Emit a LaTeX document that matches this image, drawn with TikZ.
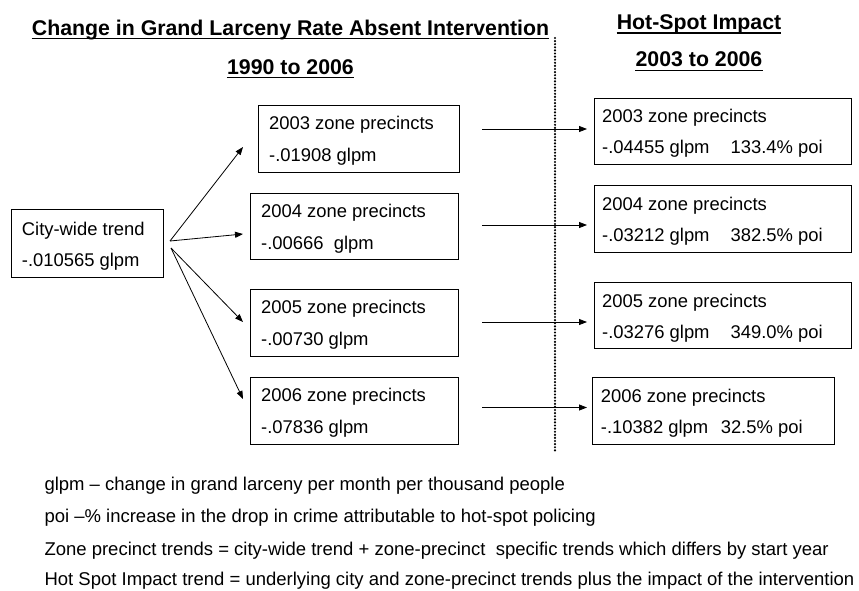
\documentclass[tikz,border=0pt]{standalone}
\usepackage{fontspec}
\setmainfont{Liberation Sans}
\usetikzlibrary{arrows.meta}
\begin{document}
\begin{tikzpicture}[x=1pt,y=-1pt,
  boxnode/.style={draw, line width=0.8pt, inner sep=0pt, anchor=north west},
  txt/.style={anchor=base west, inner sep=0pt, font=\fontsize{18.4}{20}\selectfont},
  ttl/.style={anchor=base, inner sep=0pt, font=\fontsize{21.3}{24}\selectfont\bfseries},
  uline/.style={line width=1.4pt},
  arr/.style={line width=0.8pt, -{Triangle[length=8pt,width=6pt]}},
  dotline/.style={line width=2.4pt, dash pattern=on 0pt off 3.1pt, line cap=round},
  note/.style={anchor=base west, inner sep=0pt, font=\fontsize{18.5}{20}\selectfont},
]
\useasboundingbox (0,0) rectangle (859,590);

% titles
\node[ttl] (t1) at (290.5,35) {Change in Grand Larceny Rate Absent Intervention};
\node[ttl] (t2) at (290.5,74) {1990 to 2006};
\node[ttl] (t3) at (699,29.3) {Hot-Spot Impact};
\node[ttl] (t4) at (699,66.7) {2003 to 2006};
\foreach \t in {t1,t2,t3,t4}
  \draw[uline] ([yshift=-3.5pt]\t.base west) -- ([yshift=-3.5pt]\t.base east);

% dotted separator
\coordinate (d1) at (555,38);
\coordinate (d2) at (555,453);
\draw[dotline] (d1) -- (d2);

% city-wide box
\node[boxnode, minimum width=152pt, minimum height=68pt] (city) at (11,209) {};
\node[txt] (citya) at ([shift={(10.7,26)}]city.north west) {City-wide trend};
\node[txt] (cityb) at ([shift={(10.7,57.5)}]city.north west) {-.010565 glpm};

% left boxes
\node[boxnode, minimum width=201pt, minimum height=67pt] (l1) at (258,105) {};
\node[txt] (l1a) at ([shift={(11,24)}]l1.north west) {2003 zone precincts};
\node[txt] (l1b) at ([shift={(11,56)}]l1.north west) {-.01908 glpm};

\node[boxnode, minimum width=208pt, minimum height=66pt] (l2) at (250,193) {};
\node[txt] (l2a) at ([shift={(11,24)}]l2.north west) {2004 zone precincts};
\node[txt] (l2b) at ([shift={(11,56)}]l2.north west) {-.00666~ glpm};

\node[boxnode, minimum width=208pt, minimum height=67pt] (l3) at (250,289) {};
\node[txt] (l3a) at ([shift={(11,24)}]l3.north west) {2005 zone precincts};
\node[txt] (l3b) at ([shift={(11,56)}]l3.north west) {-.00730 glpm};

\node[boxnode, minimum width=208pt, minimum height=67pt] (l4) at (250,377) {};
\node[txt] (l4a) at ([shift={(11,24)}]l4.north west) {2006 zone precincts};
\node[txt] (l4b) at ([shift={(11,56)}]l4.north west) {-.07836 glpm};

% right boxes
\node[boxnode, minimum width=257pt, minimum height=66.5pt] (r1) at (594,97.7) {};
\node[txt] (r1a) at ([shift={(8,25)}]r1.north west) {2003 zone precincts};
\node[txt] (r1b) at ([shift={(8,56)}]r1.north west) {-.04455 glpm\hspace{21pt}133.4\% poi};

\node[boxnode, minimum width=257pt, minimum height=67pt] (r2) at (594,185) {};
\node[txt] (r2a) at ([shift={(8,25)}]r2.north west) {2004 zone precincts};
\node[txt] (r2b) at ([shift={(8,56)}]r2.north west) {-.03212 glpm\hspace{21pt}382.5\% poi};

\node[boxnode, minimum width=257pt, minimum height=66pt] (r3) at (594,282) {};
\node[txt] (r3a) at ([shift={(8,25)}]r3.north west) {2005 zone precincts};
\node[txt] (r3b) at ([shift={(8,56)}]r3.north west) {-.03276 glpm\hspace{21pt}349.0\% poi};

\node[boxnode, minimum width=242pt, minimum height=67pt] (r4) at (592,377) {};
\node[txt] (r4a) at ([shift={(8.7,25)}]r4.north west) {2006 zone precincts};
\node[txt] (r4b) at ([shift={(8.7,56)}]r4.north west) {-.10382 glpm\hspace{12.5pt}32.5\% poi};

% fan arrows
\coordinate (f1) at (170,241);
\coordinate (f2) at (171,248);
\coordinate (e1) at (243,147);
\coordinate (e2) at (243,234);
\coordinate (e3) at (243,322);
\coordinate (e4) at (243,399);
\draw[arr] (f1) -- (e1);
\draw[arr] (f1) -- (e2);
\draw[arr] (f2) -- (e3);
\draw[arr] (f2) -- (e4);

% horizontal arrows
\coordinate (h1s) at (482,129);   \coordinate (h1e) at (587,129);
\coordinate (h2s) at (482,225);   \coordinate (h2e) at (587,225);
\coordinate (h3s) at (482,322);   \coordinate (h3e) at (587,322);
\coordinate (h4s) at (482,407.5); \coordinate (h4e) at (587,407.5);
\draw[arr] (h1s) -- (h1e);
\draw[arr] (h2s) -- (h2e);
\draw[arr] (h3s) -- (h3e);
\draw[arr] (h4s) -- (h4e);

% notes
\node[note] (n1) at (44.3,490) {glpm – change in grand larceny per month per thousand people};
\node[note] (n2) at (44.3,522.5) {poi –\% increase in the drop in crime attributable to hot-spot policing};
\node[note] (n3) at (44.3,555) {Zone precinct trends = city-wide trend + zone-precinct~ specific trends which differs by start year};
\node[note] (n4) at (44.3,585.5) {Hot Spot Impact trend = underlying city and zone-precinct trends plus the impact of the intervention};
\end{tikzpicture}
\end{document}
